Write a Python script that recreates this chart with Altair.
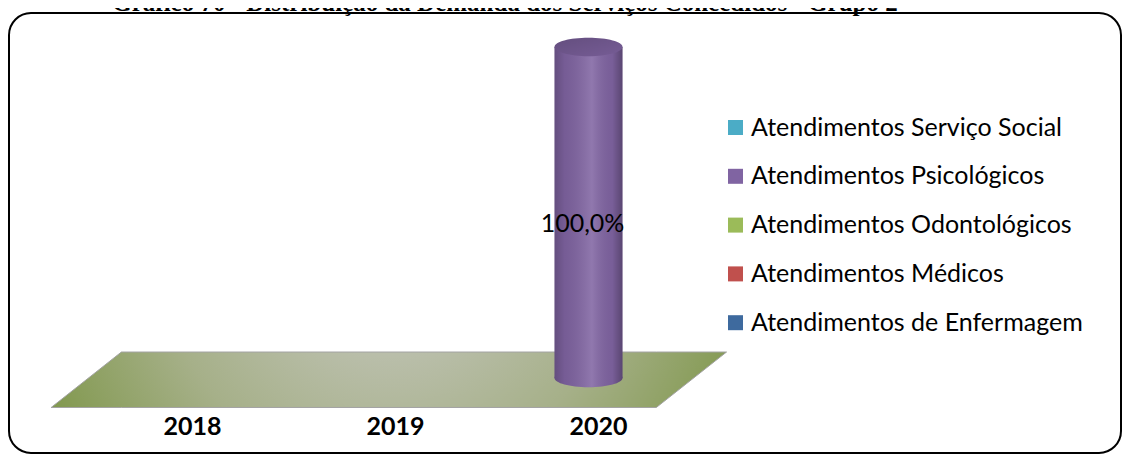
import json
import altair as alt
import pandas as pd

# ---------------- data ----------------
years = ["2018", "2019", "2020"]
series = [
    "Atendimentos Serviço Social",
    "Atendimentos Psicológicos",
    "Atendimentos Odontológicos",
    "Atendimentos Médicos",
    "Atendimentos de Enfermagem",
]
servico_social = [0.0, 0.0, 0.0]
psicologicos = [0.0, 0.0, 100.0]
odontologicos = [0.0, 0.0, 0.0]
medicos = [0.0, 0.0, 0.0]
enfermagem = [0.0, 0.0, 0.0]
series_colors = ["#4bacc6", "#8064a2", "#9bbb59", "#c0504d", "#3e6a9e"]
title_text = "Gráfico 70 - Distribuição da Demanda dos Serviços Concedidos - Grupo 2"

# ---------------- styling / layout constants ----------------
FONT = "Lato"
BAR_W = 68
ELLIPSE = ("M -1 0 C -1 -0.149 -0.552 -0.27 0 -0.27 C 0.552 -0.27 1 -0.149 1 0 "
           "C 1 0.149 0.552 0.27 0 0.27 C -0.552 0.27 -1 0.149 -1 0 Z")
# 3D floor, expressed in category units (x) and value units (y)
FLOOR_LEFT, FLOOR_RIGHT, FLOOR_DEPTH = -0.647, 2.334, 0.346
FLOOR_FRONT, FLOOR_BACK = -8.91, 7.85
VIEW_H = 440


def fmt(v):
    return f"{v:.1f}".replace(".", ",") + "%"


values = [servico_social, psicologicos, odontologicos, medicos, enfermagem]
rows = []
for i, yr in enumerate(years):
    base = 0.0
    for s, vals in reversed(list(zip(series, values))):
        v = vals[i]
        rows.append(dict(year=yr, idx=i, series=s, value=v, y0=base, y1=base + v,
                         ymid=base + v / 2, label=fmt(v)))
        base += v
df = pd.DataFrame(rows)
nz = df[df.value > 0]
bottoms = nz.groupby("idx", as_index=False).first()
tops = nz.groupby("idx", as_index=False).last()

floor = pd.DataFrame({
    "fx": [FLOOR_LEFT, FLOOR_LEFT + FLOOR_DEPTH, FLOOR_RIGHT, FLOOR_RIGHT + FLOOR_DEPTH],
    "fy": [FLOOR_FRONT, FLOOR_FRONT, FLOOR_FRONT, FLOOR_BACK],
    "fy2": [FLOOR_FRONT, FLOOR_BACK, FLOOR_BACK, FLOOR_BACK],
})

# ---------------- scales / axes ----------------
xscale = alt.Scale(domain=[0, 2], range=[168.5, 584.5], nice=False, zero=False)
yscale = alt.Scale(domain=[0, 100], range=[365, 34], nice=False, zero=False)
xaxis = alt.Axis(
    values=[0, 1, 2], labelExpr=f"{json.dumps(years)}[datum.value]",
    domain=False, ticks=False, grid=False, title=None,
    labelFont=FONT, labelFontWeight="bold", labelFontSize=25, labelColor="black",
    labelPadding=0, offset=401.4 - VIEW_H, labelOffset=9.5, labelBaseline="top",
    labelFlush=False, labelOverlap=False,
)
cscale = alt.Scale(domain=series, range=series_colors)

shade = alt.LinearGradient(
    gradient="linear", x1=0, x2=1, y1=0, y2=0,
    stops=[
        alt.GradientStop(offset=0, color="rgba(0,0,0,0.22)"),
        alt.GradientStop(offset=0.15, color="rgba(0,0,0,0.08)"),
        alt.GradientStop(offset=0.55, color="rgba(255,255,255,0.13)"),
        alt.GradientStop(offset=0.85, color="rgba(0,0,0,0.06)"),
        alt.GradientStop(offset=1, color="rgba(0,0,0,0.30)"),
    ],
)
top_shade = alt.LinearGradient(
    gradient="linear", x1=0, x2=1, y1=0, y2=1,
    stops=[
        alt.GradientStop(offset=0, color="rgba(0,0,0,0.22)"),
        alt.GradientStop(offset=1, color="rgba(0,0,0,0.08)"),
    ],
)
floor_grad = alt.RadialGradient(
    gradient="radial", x1=0.5, y1=0.3, x2=0.5, y2=0.3, r1=0, r2=0.62,
    stops=[
        alt.GradientStop(offset=0, color="#cbcbc8"),
        alt.GradientStop(offset=0.55, color="#a6b089"),
        alt.GradientStop(offset=1, color="#76913c"),
    ],
)

X = lambda f: alt.X(f, scale=xscale, axis=xaxis)
Y = lambda f: alt.Y(f, scale=yscale, axis=None)

floor_layer = alt.Chart(floor).mark_area(
    color=floor_grad, stroke="#a3a3a3", strokeWidth=1, orient="vertical"
).encode(x=X("fx:Q"), y=Y("fy:Q"), y2="fy2:Q")

bottom_ell = alt.Chart(bottoms).mark_point(
    shape=ELLIPSE, size=BAR_W ** 2, filled=True, opacity=1, strokeWidth=0
).encode(x=X("idx:Q"), y=Y("y0:Q"),
         fill=alt.Fill("series:N", scale=cscale, legend=None))
bottom_ell_shade = alt.Chart(bottoms).mark_point(
    shape=ELLIPSE, size=BAR_W ** 2, filled=True, opacity=1, strokeWidth=0, color=shade
).encode(x=X("idx:Q"), y=Y("y0:Q"))

body = alt.Chart(df).mark_bar(size=BAR_W).encode(
    x=X("idx:Q"), y=Y("y0:Q"), y2="y1:Q",
    color=alt.Color("series:N", scale=cscale, legend=alt.Legend(
        title=None, orient="none", legendX=714, legendY=102,
        symbolType="square", symbolSize=225, symbolStrokeWidth=0, symbolOpacity=1,
        labelFont=FONT, labelFontSize=25, labelColor="black", labelLimit=600,
        rowPadding=22.8, labelOffset=3, padding=0,
    )),
)
body_shade = alt.Chart(nz).mark_bar(size=BAR_W, color=shade).encode(
    x=X("idx:Q"), y=Y("y0:Q"), y2="y1:Q")

top_ell = alt.Chart(tops).mark_point(
    shape=ELLIPSE, size=BAR_W ** 2, filled=True, opacity=1, strokeWidth=0
).encode(x=X("idx:Q"), y=Y("y1:Q"),
         fill=alt.Fill("series:N", scale=cscale, legend=None))
top_ell_shade = alt.Chart(tops).mark_point(
    shape=ELLIPSE, size=BAR_W ** 2, filled=True, opacity=1, strokeWidth=0, color=top_shade
).encode(x=X("idx:Q"), y=Y("y1:Q"))

labels = alt.Chart(nz).mark_text(
    font=FONT, fontSize=25, color="black", dx=-6, dy=11.5
).encode(x=X("idx:Q"), y=Y("ymid:Q"), text="label:N")

title_layer = alt.Chart(pd.DataFrame({"t": [title_text]})).mark_text(
    font="Liberation Serif", fontWeight="bold", fontSize=25, color="black",
    align="center", baseline="alphabetic"
).encode(x=alt.value(496), y=alt.value(-2), text="t:N")

chart = alt.layer(
    floor_layer, bottom_ell, bottom_ell_shade, body, body_shade,
    top_ell, top_ell_shade, labels, title_layer
).properties(
    width=1112, height=VIEW_H,
    autosize=alt.AutoSizeParams(type="none"),
    padding={"left": 1, "top": 5, "right": 1, "bottom": 1},
    background="white",
).resolve_scale(color="independent", fill="independent").configure_view(
    stroke="black", strokeWidth=2, cornerRadius=22, fill="white"
)

chart.save("out.html", embed_options={"renderer": "svg", "actions": False})
